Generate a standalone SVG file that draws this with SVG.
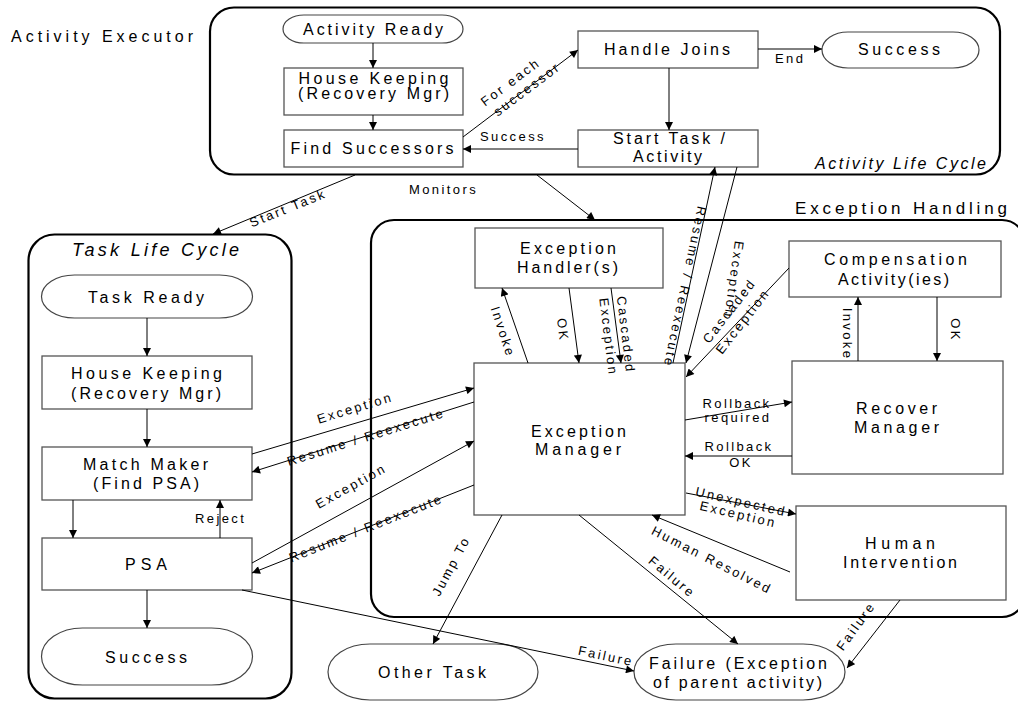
<svg xmlns="http://www.w3.org/2000/svg" width="1018" height="702" viewBox="0 0 1018 702">
  <style>
    text { font-family: "Liberation Sans", Arial, Helvetica, sans-serif; fill: #000; }
    .box { fill: #fff; stroke: #555; stroke-width: 1.3; }
    .term { fill: #fff; stroke: #444; stroke-width: 1.2; }
    .frame { fill: none; stroke: #000; stroke-width: 2.2; }
    .n { font-size: 16px; text-anchor: middle; }
    .t { font-size: 16px; letter-spacing: 3px; }
    .it { font-style: italic; }
    .l { font-size: 13px; letter-spacing: 2.4px; }
    .c { text-anchor: middle; }
    .conn line { stroke: #000; stroke-width: 1; marker-end: url(#ah); }
  </style>
  <defs>
    <marker id="ah" viewBox="0 0 10 10" refX="10" refY="5" markerWidth="9" markerHeight="8" markerUnits="userSpaceOnUse" orient="auto">
      <path d="M0,0 L10,5 L0,10 z" fill="#000"/>
    </marker>
  </defs>
  <rect width="1018" height="702" fill="#fff"/>

  <!-- lifecycle frames -->
  <g id="activity-executor">
    <rect class="frame" x="210" y="7.5" width="790" height="167" rx="24"/>
    <text class="t" x="11" y="41.5" textLength="185">Activity Executor</text>
    <text class="t it" x="815" y="169" textLength="174">Activity Life Cycle</text>
  </g>
  <g id="task-life-cycle">
    <rect class="frame" x="28.5" y="234.5" width="263" height="464" rx="26"/>
    <text class="t it c" x="157" y="256" style="font-size:18px" textLength="170">Task Life Cycle</text>
  </g>
  <g id="exception-handling">
    <rect class="frame" x="371" y="220" width="654" height="397" rx="23"/>
    <text class="t" x="795" y="214" style="font-size:17px" textLength="215">Exception Handling</text>
  </g>

  <!-- activity nodes -->
  <g id="activity-ready">
    <rect class="term" x="283" y="15" width="180" height="28" rx="21" ry="14"/>
    <text class="n" x="373" y="34.5" textLength="140">Activity Ready</text>
  </g>
  <g id="house-keeping-activity">
    <rect class="box" x="284" y="68" width="179" height="47"/>
    <text class="n" x="373.5" y="84" textLength="150">House Keeping</text>
    <text class="n" x="373.5" y="99" textLength="151">(Recovery Mgr)</text>
  </g>
  <g id="find-successors">
    <rect class="box" x="284" y="130" width="179" height="37"/>
    <text class="n" x="372" y="154" textLength="163">Find Successors</text>
  </g>
  <g id="handle-joins">
    <rect class="box" x="578" y="31" width="180" height="37"/>
    <text class="n" x="667" y="55" textLength="126">Handle Joins</text>
  </g>
  <g id="activity-success">
    <rect class="term" x="822" y="32" width="157" height="36" rx="26" ry="18"/>
    <text class="n" x="899" y="55" textLength="82">Success</text>
  </g>
  <g id="start-task-activity">
    <rect class="box" x="578" y="130" width="180" height="37"/>
    <text class="n" x="669" y="143.5" textLength="112">Start Task /</text>
    <text class="n" x="667.5" y="162" textLength="69">Activity</text>
  </g>

  <!-- task nodes -->
  <g id="task-ready">
    <rect class="term" x="41.5" y="275" width="211" height="43" rx="33" ry="21.5"/>
    <text class="n" x="146" y="302.5" textLength="116">Task Ready</text>
  </g>
  <g id="house-keeping-task">
    <rect class="box" x="42" y="356" width="210" height="53"/>
    <text class="n" x="146.5" y="379" textLength="151">House Keeping</text>
    <text class="n" x="146" y="399" textLength="150">(Recovery Mgr)</text>
  </g>
  <g id="match-maker">
    <rect class="box" x="42" y="447" width="210" height="53"/>
    <text class="n" x="145.5" y="470" textLength="125">Match Maker</text>
    <text class="n" x="146" y="489" textLength="106">(Find PSA)</text>
  </g>
  <g id="psa">
    <rect class="box" x="42" y="538" width="210" height="52"/>
    <text class="n" x="146" y="569.5" textLength="42">PSA</text>
  </g>
  <g id="task-success">
    <rect class="term" x="41.5" y="628" width="211" height="57" rx="41" ry="28.5"/>
    <text class="n" x="146" y="663" textLength="82">Success</text>
  </g>

  <!-- exception handling nodes -->
  <g id="exception-handlers">
    <rect class="box" x="475" y="228" width="188" height="60"/>
    <text class="n" x="568" y="254" textLength="96">Exception</text>
    <text class="n" x="567.5" y="272.5" textLength="101">Handler(s)</text>
  </g>
  <g id="exception-manager">
    <rect class="box" x="474" y="363" width="211" height="152"/>
    <text class="n" x="578.5" y="436.5" textLength="95">Exception</text>
    <text class="n" x="578" y="455" textLength="86">Manager</text>
  </g>
  <g id="compensation-activities">
    <rect class="box" x="789" y="241" width="212" height="56"/>
    <text class="n" x="895.5" y="265" textLength="143">Compensation</text>
    <text class="n" x="893.5" y="284.5" textLength="111">Activity(ies)</text>
  </g>
  <g id="recover-manager">
    <rect class="box" x="792" y="361" width="211" height="113"/>
    <text class="n" x="896.5" y="413.5" textLength="81">Recover</text>
    <text class="n" x="896.5" y="432.5" textLength="85">Manager</text>
  </g>
  <g id="human-intervention">
    <rect class="box" x="796" y="506" width="210" height="94"/>
    <text class="n" x="900" y="549" textLength="70">Human</text>
    <text class="n" x="900" y="567.5" textLength="114">Intervention</text>
  </g>
  <g id="other-task">
    <rect class="term" x="328" y="644" width="210" height="56" rx="42" ry="28"/>
    <text class="n" x="432" y="677.5" textLength="108">Other Task</text>
  </g>
  <g id="parent-failure">
    <rect class="term" x="634" y="644" width="211" height="56" rx="42" ry="28"/>
    <text class="n" x="738" y="669" textLength="178">Failure (Exception</text>
    <text class="n" x="737.5" y="687.5" textLength="169">of parent activity)</text>
  </g>

  <!-- connectors -->
  <g id="connectors" class="conn">
    <line x1="373" y1="43" x2="373" y2="68"/>
    <line x1="373" y1="115" x2="373" y2="130"/>
    <line x1="463" y1="137" x2="578" y2="50"/>
    <line x1="758" y1="49" x2="822" y2="49"/>
    <line x1="669" y1="68" x2="669" y2="130"/>
    <line x1="578" y1="149" x2="463" y2="149"/>
    <line x1="355" y1="175" x2="213" y2="234"/>
    <line x1="537" y1="175" x2="595" y2="220"/>

    <line x1="147" y1="318" x2="147" y2="356"/>
    <line x1="147" y1="409" x2="147" y2="447"/>
    <line x1="73" y1="500" x2="73" y2="538"/>
    <line x1="220" y1="538" x2="220" y2="500"/>
    <line x1="147" y1="590" x2="147" y2="628"/>

    <line x1="252" y1="454" x2="474" y2="388"/>
    <line x1="474" y1="402" x2="252" y2="472"/>
    <line x1="252" y1="563" x2="474" y2="441"/>
    <line x1="474" y1="485" x2="252" y2="573"/>

    <line x1="528" y1="363" x2="502" y2="288"/>
    <line x1="569" y1="288" x2="579" y2="363"/>
    <line x1="611" y1="288" x2="621" y2="363"/>
    <line x1="673" y1="363" x2="715" y2="167"/>
    <line x1="737" y1="167" x2="686" y2="363"/>
    <line x1="789" y1="268" x2="686" y2="377"/>
    <line x1="858" y1="361" x2="858" y2="297"/>
    <line x1="937" y1="297" x2="937" y2="361"/>
    <line x1="685" y1="420" x2="792" y2="402"/>
    <line x1="792" y1="456" x2="685" y2="456"/>
    <line x1="686" y1="493" x2="796" y2="514"/>
    <line x1="790" y1="572" x2="652" y2="515"/>
    <line x1="579" y1="515" x2="738" y2="644"/>
    <line x1="502" y1="515" x2="433" y2="644"/>
    <line x1="900" y1="600" x2="847" y2="668"/>
    <line x1="242" y1="590" x2="634" y2="671"/>
  </g>

  <!-- connector labels -->
  <g id="labels">
    <text class="l c" transform="translate(288,208) rotate(-22)" y="4.5">Start Task</text>
    <g transform="translate(527,89) rotate(-37)">
      <text class="l c" x="-9" y="-11">For each</text>
      <text class="l c" y="4.5">successor</text>
    </g>
    <text class="l" x="480" y="141">Success</text>
    <text class="l" x="775" y="63">End</text>
    <text class="l" x="409" y="194">Monitors</text>

    <text class="l c" transform="translate(355,408) rotate(-17)" y="4.5">Exception</text>
    <text class="l c" transform="translate(366,437) rotate(-17.5)" y="4.5">Resume / Reexecute</text>
    <text class="l c" transform="translate(351,486) rotate(-29)" y="4.5">Exception</text>
    <text class="l c" transform="translate(366,528) rotate(-21.6)" y="4.5">Resume / Reexecute</text>
    <text class="l" x="195" y="523">Reject</text>

    <text class="l c" transform="translate(503,332) rotate(72)" y="4.5">Invoke</text>
    <text class="l c" transform="translate(563,330) rotate(83)" y="4.5">OK</text>
    <g transform="translate(617,336) rotate(83)">
      <text class="l c" y="-4.5">Cascaded</text>
      <text class="l c" y="13">Exception</text>
    </g>
    <text class="l c" transform="translate(685,287) rotate(102)" y="4.5">Resume / Reexecute</text>
    <text class="l c" transform="translate(734,280) rotate(98)" y="4.5">Exception</text>
    <g transform="translate(736,316) rotate(-52)">
      <text class="l c" y="-4">Cascaded</text>
      <text class="l c" y="13">Exception</text>
    </g>
    <text class="l c" transform="translate(847,334) rotate(90)" y="4.5">Invoke</text>
    <text class="l c" transform="translate(955,330) rotate(90)" y="4.5">OK</text>

    <text class="l c" x="737" y="407.5">Rollback</text>
    <text class="l c" x="738" y="421.5">required</text>
    <text class="l c" x="739" y="451">Rollback</text>
    <text class="l c" x="741" y="466.5">OK</text>
    <g transform="translate(740,507) rotate(13)">
      <text class="l c" y="-1">Unexpected</text>
      <text class="l c" y="12">Exception</text>
    </g>
    <text class="l c" transform="translate(712,560) rotate(27)" y="4.5">Human Resolved</text>
    <text class="l c" transform="translate(672,577) rotate(40)" y="4.5">Failure</text>
    <text class="l c" transform="translate(451,566) rotate(-62)" y="4.5">Jump To</text>
    <text class="l c" transform="translate(856,626) rotate(-54)" y="4.5">Failure</text>
    <text class="l c" transform="translate(606,656) rotate(12)" y="4.5">Failure</text>
  </g>
</svg>
